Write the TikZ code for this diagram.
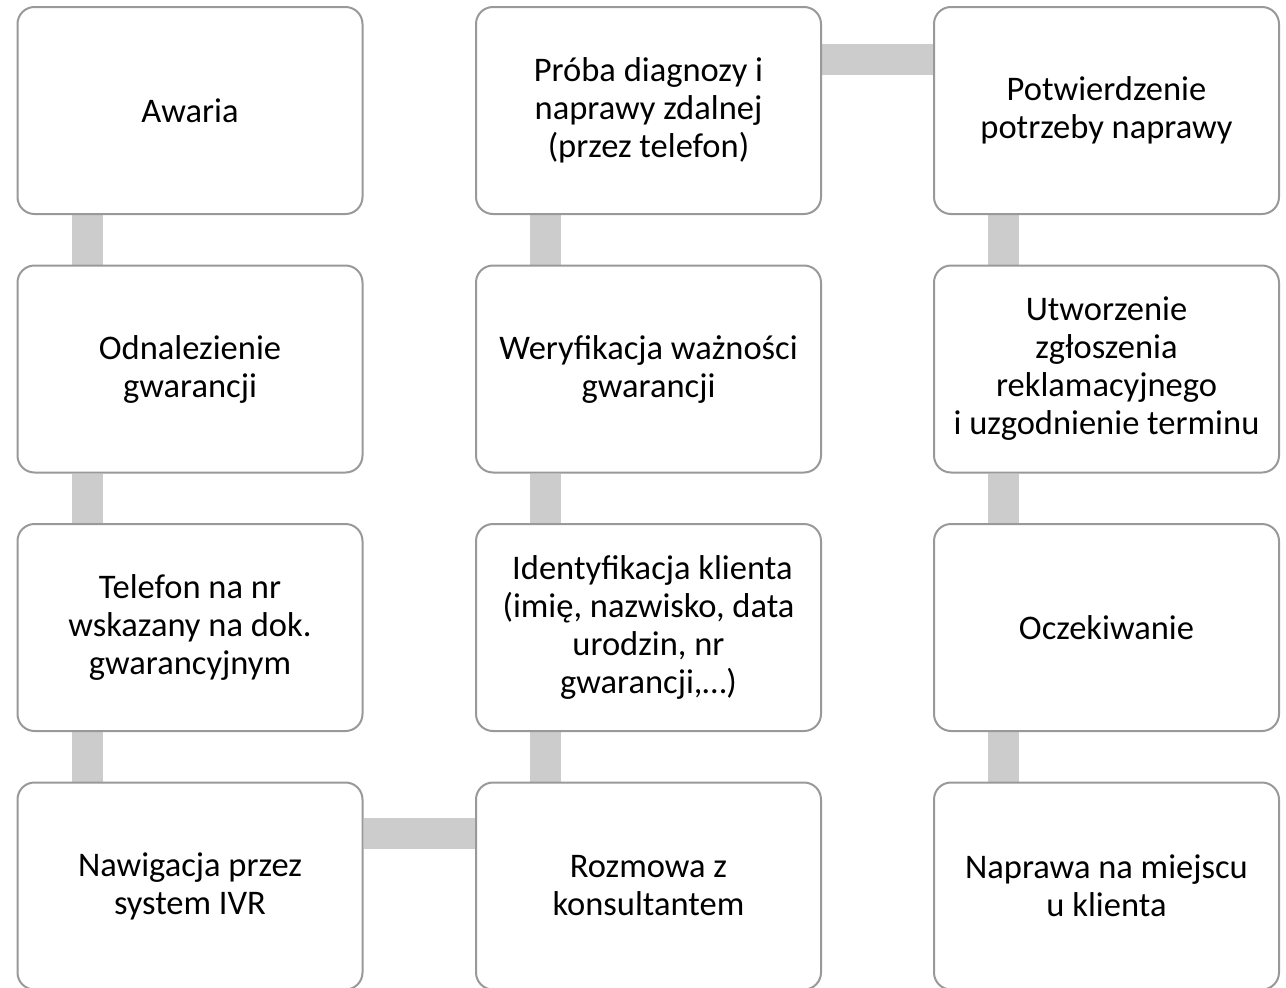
\documentclass[tikz,border=0pt]{standalone}
\usepackage{fontspec}
\setmainfont{Carlito}
\usetikzlibrary{backgrounds}
\definecolor{boxline}{HTML}{999999}
\definecolor{barfill}{HTML}{CCCCCC}
\tikzset{
  stepbox/.style={draw=boxline, line width=2pt, fill=white, rounded corners=17pt,
    minimum width=345pt, minimum height=207pt, inner sep=0pt, align=center,
    font=\fontsize{34.5pt}{38pt}\selectfont, text=black},
  bar/.style={draw=barfill, line width=31pt}
}
\begin{document}
\begin{tikzpicture}[x=1pt,y=-1pt]
\useasboundingbox (0,0) rectangle (1286,988);
% column 1
\node[stepbox] (a1) at (190,110.5) {Awaria};
\node[stepbox] (a2) at (190,369) {Odnalezienie\\gwarancji};
\node[stepbox] (a3) at (190,627.5) {Telefon na nr\\wskazany na dok.\\gwarancyjnym};
\node[stepbox] (a4) at (190,886) {Nawigacja przez\\system IVR};
% column 2
\node[stepbox] (b4) at (648.5,886) {Rozmowa z\\konsultantem};
\node[stepbox] (b3) at (648.5,627.5) {\ Identyfikacja klienta\\(imię, nazwisko, data\\urodzin, nr\\gwarancji,…)};
\node[stepbox] (b2) at (648.5,369) {Weryfikacja ważności\\gwarancji};
\node[stepbox] (b1) at (648.5,110.5) {Próba diagnozy i\\naprawy zdalnej\\(przez telefon)};
% column 3
\node[stepbox] (c1) at (1106.5,110.5) {Potwierdzenie\\potrzeby naprawy};
\node[stepbox] (c2) at (1106.5,369) {Utworzenie\\zgłoszenia\\reklamacyjnego\\i uzgodnienie terminu};
\node[stepbox] (c3) at (1106.5,627.5) {Oczekiwanie};
\node[stepbox] (c4) at (1106.5,886) {Naprawa na miejscu\\u klienta};
\begin{scope}[on background layer]
\fill[white] (0,0) rectangle (1286,988);
\draw[bar] ([xshift=-103pt]a1.south) -- ([xshift=-103pt]a2.north);
\draw[bar] ([xshift=-103pt]a2.south) -- ([xshift=-103pt]a3.north);
\draw[bar] ([xshift=-103pt]a3.south) -- ([xshift=-103pt]a4.north);
\draw[bar] ([yshift=53pt]a4.east) -- ([yshift=53pt]b4.west);
\draw[bar] ([xshift=-103pt]b4.north) -- ([xshift=-103pt]b3.south);
\draw[bar] ([xshift=-103pt]b3.north) -- ([xshift=-103pt]b2.south);
\draw[bar] ([xshift=-103pt]b2.north) -- ([xshift=-103pt]b1.south);
\draw[bar] ([yshift=51.5pt]b1.east) -- ([yshift=51.5pt]c1.west);
\draw[bar] ([xshift=-103pt]c1.south) -- ([xshift=-103pt]c2.north);
\draw[bar] ([xshift=-103pt]c2.south) -- ([xshift=-103pt]c3.north);
\draw[bar] ([xshift=-103pt]c3.south) -- ([xshift=-103pt]c4.north);
\end{scope}
\end{tikzpicture}
\end{document}
